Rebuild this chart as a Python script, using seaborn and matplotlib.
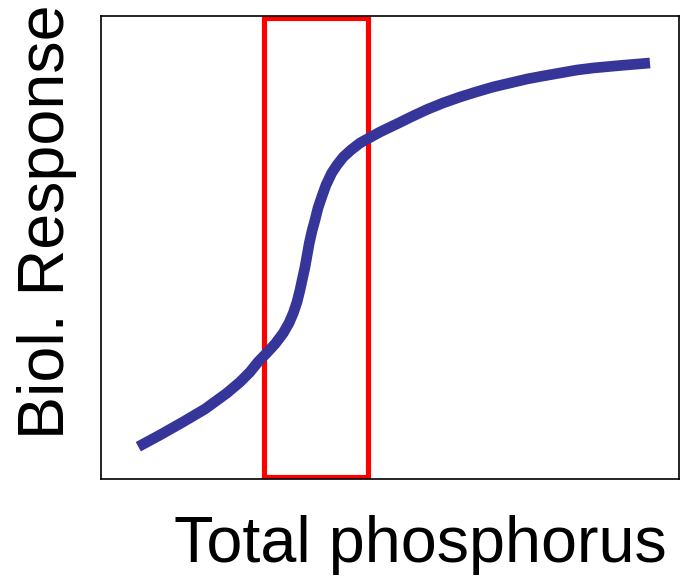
import matplotlib
matplotlib.use("Agg")
import matplotlib.pyplot as plt
import seaborn as sns
import pandas as pd
from matplotlib.patches import Rectangle

# Data (abstract units: x = total phosphorus, y = biological response)
tp = [37.3, 59, 82, 104, 126, 139, 149, 157, 165.7, 174, 182.3, 188, 192.3, 196,
      199, 204, 208.3, 211, 214, 217, 220.7, 225, 230.7, 236, 242.3, 250, 259, 269,
      279, 295.7, 311, 326, 342, 359, 375, 392, 409, 426, 442, 459, 476, 492, 519, 549]
resp = [32.3, 44, 57, 70, 86, 97, 107, 117, 126, 135, 146, 156, 166, 177,
        189, 212, 236, 248, 259, 271, 282, 294, 306, 314, 322, 329, 336, 341.5,
        347, 355, 362.5, 369.5, 376, 382, 387, 392, 396, 400, 403, 406, 409, 411, 413.5, 416]
box_x = [163, 267]
box_y = [2.5, 461]

sns.set_theme(style="white")
plt.rcParams['font.family'] = ['Liberation Sans', 'DejaVu Sans']
plt.rcParams['text.color'] = 'black'

fig = plt.figure(figsize=(6.83, 5.79), dpi=100)
ax = fig.add_axes([101/683, 1 - 479/579, 578/683, 463/579])

df = pd.DataFrame({"tp": tp, "resp": resp})
sns.lineplot(data=df, x="tp", y="resp", sort=False, ax=ax, color="#36369a",
             linewidth=7.7, solid_capstyle="butt", solid_joinstyle="round")

ax.add_patch(Rectangle((box_x[0], box_y[0]), box_x[1] - box_x[0], box_y[1] - box_y[0],
                       fill=False, edgecolor="#ff0000", linewidth=3.7, joinstyle="miter"))

ax.set_xlim(0, 578)
ax.set_ylim(0, 463)
ax.set_xticks([])
ax.set_yticks([])
ax.set_xlabel("")
ax.set_ylabel("")
for s in ax.spines.values():
    s.set_color("black")
    s.set_linewidth(1.2)

fig.text(420/683, 1 - 545/579, "Total phosphorus", fontsize=46.5, ha="center",
         va="center", color="black")
fig.text(47/683, 1 - 222/579, "Biol. Response", fontsize=46.5, ha="center", va="center",
         rotation=90, color="black")

fig.savefig("out.png", dpi=100)
